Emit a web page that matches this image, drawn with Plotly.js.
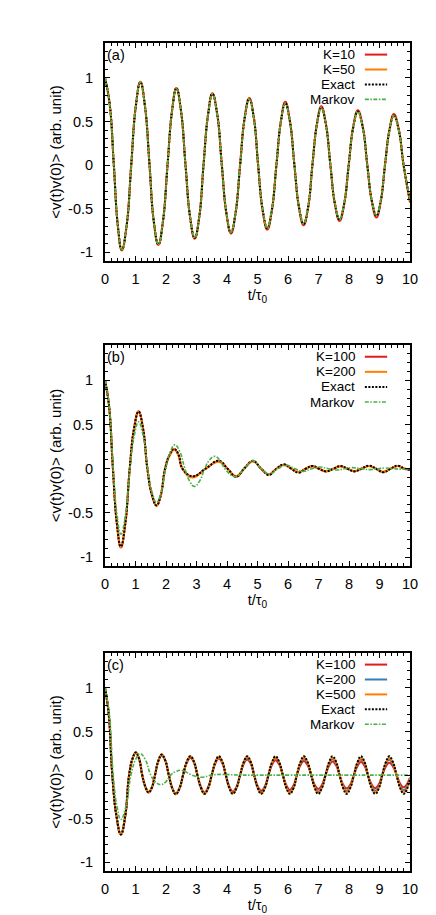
<!DOCTYPE html>
<html><head><meta charset="utf-8">
<script src="https://cdn.plot.ly/plotly-3.0.1.min.js"></script>
<style>html,body{margin:0;padding:0;background:#fff}#chart{width:436px;height:915px}</style>
</head><body><div id="chart"></div>
<script>
// ---------- Panel (a) ----------
const tA = [0, 0.15, 0.29, 0.42, 0.55, 0.71, 0.86, 1.01, 1.16, 1.31, 1.46, 1.6, 1.75, 1.9, 2.05, 2.2, 2.34, 2.49, 2.64, 2.79, 2.94, 3.09, 3.23, 3.38, 3.52, 3.68, 3.83, 3.98, 4.13, 4.28, 4.43, 4.58, 4.73, 4.88, 5.02, 5.17, 5.32, 5.47, 5.62, 5.77, 5.91, 6.06, 6.21, 6.36, 6.51, 6.66, 6.80, 6.95, 7.09, 7.24, 7.39, 7.54, 7.69, 7.84, 7.99, 8.14, 8.29, 8.45, 8.60, 8.75, 8.90, 9.04, 9.18, 9.33, 9.47, 9.63, 9.79, 10];
const k10A = [1, 0.71, 0, -0.695, -0.98, -0.695, 0, 0.68, 0.955, 0.68, 0, -0.65, -0.915, -0.65, 0, 0.63, 0.885, 0.63, 0, -0.6, -0.845, -0.6, 0, 0.585, 0.825, 0.585, 0, -0.555, -0.785, -0.555, 0, 0.545, 0.77, 0.545, 0, -0.525, -0.74, -0.525, 0, 0.515, 0.725, 0.515, 0, -0.49, -0.69, -0.49, 0, 0.48, 0.675, 0.48, 0, -0.455, -0.64, -0.455, 0, 0.445, 0.63, 0.445, 0, -0.425, -0.6, -0.425, 0, 0.415, 0.585, 0.415, 0, -0.43];
const k50A = [1, 0.71, 0, -0.69, -0.975, -0.69, 0, 0.675, 0.95, 0.675, 0, -0.645, -0.91, -0.645, 0, 0.625, 0.88, 0.625, 0, -0.595, -0.835, -0.595, 0, 0.58, 0.815, 0.58, 0, -0.55, -0.775, -0.55, 0, 0.54, 0.76, 0.54, 0, -0.515, -0.725, -0.515, 0, 0.505, 0.71, 0.505, 0, -0.48, -0.675, -0.48, 0, 0.47, 0.66, 0.47, 0, -0.445, -0.625, -0.445, 0, 0.435, 0.615, 0.435, 0, -0.41, -0.58, -0.41, 0, 0.405, 0.57, 0.405, 0, -0.41];
const exactA = [1, 0.71, 0, -0.69, -0.97, -0.69, 0, 0.675, 0.95, 0.675, 0, -0.645, -0.91, -0.645, 0, 0.625, 0.88, 0.625, 0, -0.595, -0.835, -0.595, 0, 0.58, 0.815, 0.58, 0, -0.55, -0.775, -0.55, 0, 0.54, 0.76, 0.54, 0, -0.515, -0.725, -0.515, 0, 0.505, 0.71, 0.505, 0, -0.48, -0.675, -0.48, 0, 0.47, 0.66, 0.47, 0, -0.445, -0.625, -0.445, 0, 0.435, 0.615, 0.435, 0, -0.41, -0.58, -0.41, 0, 0.405, 0.57, 0.405, 0, -0.41];
const markovA = [1, 0.71, 0, -0.69, -0.97, -0.69, 0, 0.675, 0.95, 0.675, 0, -0.645, -0.905, -0.645, 0, 0.62, 0.875, 0.62, 0, -0.59, -0.83, -0.59, 0, 0.575, 0.81, 0.575, 0, -0.545, -0.77, -0.545, 0, 0.535, 0.755, 0.535, 0, -0.51, -0.72, -0.51, 0, 0.5, 0.705, 0.5, 0, -0.475, -0.67, -0.475, 0, 0.465, 0.655, 0.465, 0, -0.44, -0.62, -0.44, 0, 0.43, 0.61, 0.43, 0, -0.41, -0.575, -0.41, 0, 0.4, 0.565, 0.4, 0, -0.40];
const legendA = ['K=10', 'K=50', 'Exact', 'Markov'];

// ---------- Panel (b) ----------
const tB = [0, 0.13, 0.26, 0.39, 0.52, 0.665, 0.81, 0.955, 1.10, 1.245, 1.39, 1.54, 1.69, 1.83, 1.97, 2.12, 2.27, 2.41, 2.54, 2.87, 3.30, 3.73, 4.02, 4.30, 4.56, 4.85, 5.12, 5.37, 5.62, 5.87, 6.11, 6.35, 6.58, 6.80, 7.02, 7.25, 7.49, 7.72, 7.95, 8.17, 8.41, 8.65, 8.89, 9.12, 9.36, 9.60, 9.82, 10];
const k100B = [1, 0.72, 0, -0.625, -0.89, -0.625, 0, 0.46, 0.65, 0.46, 0, -0.3, -0.42, -0.3, 0, 0.155, 0.22, 0.155, 0, -0.09, 0, 0.085, 0, -0.09, 0, 0.085, 0, -0.065, 0, 0.045, 0, -0.04, 0, 0.028, 0, -0.03, 0, 0.028, 0, -0.028, 0, 0.032, 0, -0.036, 0, 0.032, 0, -0.01];
const k200B = [1, 0.72, 0, -0.62, -0.885, -0.62, 0, 0.46, 0.645, 0.46, 0, -0.295, -0.415, -0.295, 0, 0.15, 0.215, 0.15, 0, -0.1, 0, 0.08, 0, -0.085, 0, 0.085, 0, -0.065, 0, 0.045, 0, -0.04, 0, 0.028, 0, -0.028, 0, 0.028, 0, -0.028, 0, 0.03, 0, -0.035, 0, 0.03, 0, -0.01];
const exactB = [1, 0.72, 0, -0.62, -0.88, -0.62, 0, 0.46, 0.645, 0.46, 0, -0.295, -0.415, -0.295, 0, 0.16, 0.224, 0.16, 0, -0.085, 0, 0.09, 0, -0.09, 0, 0.09, 0, -0.07, 0, 0.05, 0, -0.045, 0, 0.03, 0, -0.03, 0, 0.03, 0, -0.03, 0, 0.035, 0, -0.04, 0, 0.035, 0, -0.012];
const tMB = [0, 0.135, 0.27, 0.395, 0.52, 0.67, 0.82, 0.96, 1.10, 1.25, 1.40, 1.545, 1.69, 1.84, 1.99, 2.14, 2.29, 2.455, 2.62, 2.775, 2.93, 3.10, 3.27, 3.43, 3.59, 3.76, 3.93, 4.27, 4.56, 4.85, 5.12, 5.40, 5.67, 5.95, 6.23, 6.50, 6.78, 7.05, 7.33, 7.60, 7.85, 8.10, 8.40, 8.70, 8.95, 9.20, 9.45, 9.70, 10];
const markovB = [1, 0.72, 0, -0.525, -0.74, -0.525, 0, 0.375, 0.53, 0.375, 0, -0.27, -0.38, -0.27, 0, 0.19, 0.27, 0.19, 0, -0.14, -0.2, -0.14, 0, 0.1, 0.14, 0.1, 0, -0.09, 0, 0.09, 0, -0.06, 0, 0.04, 0, -0.03, 0, 0.02, 0, -0.015, 0, 0.012, 0, -0.01, 0, 0.008, 0, -0.005, 0];
const legendB = ['K=100', 'K=200', 'Exact', 'Markov'];

// ---------- Panel (c) ----------
const tC = [0, 0.12, 0.24,
  0.38, 0.52, 0.66, 0.79, 0.9, 1.01, 1.12, 1.22, 1.33, 1.43, 1.54, 1.64, 1.75, 1.86, 1.98, 2.09,
  2.21, 2.32, 2.44, 2.56, 2.68, 2.80, 2.92, 3.03, 3.15, 3.26, 3.38, 3.50, 3.62, 3.73, 3.85, 3.96,
  4.08, 4.19, 4.31, 4.43, 4.55, 4.66, 4.78, 4.89, 5.01, 5.12, 5.24, 5.36, 5.48, 5.59, 5.71, 5.83,
  5.95, 6.06, 6.18, 6.29, 6.41, 6.52, 6.64, 6.76, 6.88, 6.99, 7.11, 7.23, 7.35, 7.46, 7.58, 7.69,
  7.81, 7.92, 8.04, 8.16, 8.28, 8.39, 8.51, 8.62, 8.74, 8.86, 8.98, 9.09, 9.21, 9.32, 9.44, 9.56,
  9.68, 9.80, 10];
const k100C = [1, 0.71, 0,
  -0.48, -0.68, -0.48, 0, 0.185, 0.26, 0.185, 0, -0.14, -0.195, -0.14, 0, 0.16, 0.225, 0.16, 0,
  -0.15, -0.21, -0.15, 0, 0.14, 0.2, 0.14, 0, -0.14, -0.2, -0.14, 0, 0.135, 0.19, 0.135, 0,
  -0.135, -0.19, -0.135, 0, 0.13, 0.18, 0.13, 0, -0.13, -0.18, -0.13, 0, 0.12, 0.17, 0.12, 0,
  -0.12, -0.17, -0.12, 0, 0.115, 0.16, 0.115, 0, -0.115, -0.16, -0.115, 0, 0.11, 0.155, 0.11, 0,
  -0.11, -0.155, -0.11, 0, 0.105, 0.15, 0.105, 0, -0.105, -0.15, -0.105, 0, 0.1, 0.14, 0.1, 0,
  -0.1, -0.14, -0.03];
const k200C = [1, 0.71, 0,
  -0.48, -0.68, -0.48, 0, 0.185, 0.26, 0.185, 0, -0.14, -0.2, -0.14, 0, 0.165, 0.23, 0.165, 0,
  -0.155, -0.215, -0.155, 0, 0.15, 0.21, 0.15, 0, -0.15, -0.21, -0.15, 0, 0.145, 0.205, 0.145, 0,
  -0.145, -0.205, -0.145, 0, 0.14, 0.2, 0.14, 0, -0.14, -0.2, -0.14, 0, 0.14, 0.195, 0.14, 0,
  -0.14, -0.195, -0.14, 0, 0.135, 0.19, 0.135, 0, -0.135, -0.19, -0.135, 0, 0.13, 0.185, 0.13, 0,
  -0.13, -0.185, -0.13, 0, 0.13, 0.18, 0.13, 0, -0.13, -0.18, -0.13, 0, 0.125, 0.175, 0.125, 0,
  -0.125, -0.175, -0.035];
const k500C = [1, 0.71, 0,
  -0.48, -0.68, -0.48, 0, 0.185, 0.26, 0.185, 0, -0.14, -0.2, -0.14, 0, 0.165, 0.235, 0.165, 0,
  -0.155, -0.22, -0.155, 0, 0.15, 0.215, 0.15, 0, -0.15, -0.215, -0.15, 0, 0.15, 0.21, 0.15, 0,
  -0.15, -0.21, -0.15, 0, 0.15, 0.21, 0.15, 0, -0.15, -0.21, -0.15, 0, 0.145, 0.205, 0.145, 0,
  -0.145, -0.205, -0.145, 0, 0.145, 0.205, 0.145, 0, -0.145, -0.205, -0.145, 0, 0.14, 0.2, 0.14, 0,
  -0.14, -0.2, -0.14, 0, 0.14, 0.2, 0.14, 0, -0.14, -0.2, -0.14, 0, 0.14, 0.2, 0.14, 0,
  -0.14, -0.2, -0.04];
const exactC = [1, 0.71, 0,
  -0.48, -0.68, -0.48, 0, 0.185, 0.26, 0.185, 0, -0.14, -0.2, -0.14, 0, 0.165, 0.235, 0.165, 0,
  -0.155, -0.22, -0.155, 0, 0.15, 0.215, 0.15, 0, -0.15, -0.215, -0.15, 0, 0.15, 0.215, 0.15, 0,
  -0.15, -0.215, -0.15, 0, 0.15, 0.215, 0.15, 0, -0.15, -0.215, -0.15, 0, 0.15, 0.215, 0.15, 0,
  -0.15, -0.215, -0.15, 0, 0.15, 0.215, 0.15, 0, -0.15, -0.215, -0.15, 0, 0.15, 0.215, 0.15, 0,
  -0.15, -0.215, -0.15, 0, 0.15, 0.215, 0.15, 0, -0.15, -0.215, -0.15, 0, 0.15, 0.215, 0.15, 0,
  -0.15, -0.215, -0.045];
const tMC = [0, 0.135, 0.27, 0.395, 0.52, 0.685, 0.85, 1.0, 1.15, 1.325, 1.50, 1.66, 1.82, 1.985, 2.15, 2.325, 2.50, 2.85, 3.15, 3.50, 3.85, 4.40, 5.0, 6.0, 7.0, 8.0, 9.0, 10];
const markovC = [1, 0.72, 0, -0.36, -0.51, -0.36, 0, 0.175, 0.245, 0.175, 0, -0.08, -0.11, -0.08, 0, 0.04, 0.055, 0, -0.025, 0, 0.008, 0, 0, 0, 0, 0, 0, 0];
const legendC = ['K=100', 'K=200', 'K=500', 'Exact', 'Markov'];

const panelLabels = ['(a)', '(b)', '(c)'];
const xTitle = 't/τ<sub>0</sub>';
const yTitle = '&lt;v(t)v(0)&gt; (arb. unit)';
const yTickVals = [-1, -0.5, 0, 0.5, 1];
const yTickText = ['-1', '-0.5', '0', '0.5', '1'];

// ---------- styles ----------
const RED = '#e41a1c', ORANGE = '#ff7f00', BLUE = '#377eb8', GREEN = '#4daf4a', BLACK = '#000000';
const FS = 14.5, LFS = 13.5;
const styles = {
  red:    {color: RED, width: 2, dash: 'solid'},
  orange: {color: ORANGE, width: 2, dash: 'solid'},
  blue:   {color: BLUE, width: 2, dash: 'solid'},
  exact:  {color: BLACK, width: 2, dash: '2px,1.5px'},
  markov: {color: GREEN, width: 1.6, dash: '4px,1.5px,1.5px,1.5px'}
};

function tr(x, y, name, st, i) {
  const s = i > 1 ? String(i) : '';
  return {type: 'scatter', mode: 'lines', x: x, y: y, name: name, showlegend: false,
    xaxis: 'x' + s, yaxis: 'y' + s, hoverinfo: 'skip',
    line: {color: st.color, width: st.width, dash: st.dash, shape: 'spline', smoothing: 1.3}};
}

const traces = [
  tr(tA, k10A, legendA[0], styles.red, 1),
  tr(tA, k50A, legendA[1], styles.orange, 1),
  tr(tA, exactA, legendA[2], styles.exact, 1),
  tr(tA, markovA, legendA[3], styles.markov, 1),
  tr(tB, k100B, legendB[0], styles.red, 2),
  tr(tB, k200B, legendB[1], styles.orange, 2),
  tr(tB, exactB, legendB[2], styles.exact, 2),
  tr(tMB, markovB, legendB[3], styles.markov, 2),
  tr(tC, k100C, legendC[0], styles.red, 3),
  tr(tC, k200C, legendC[1], styles.blue, 3),
  tr(tC, k500C, legendC[2], styles.orange, 3),
  tr(tC, exactC, legendC[3], styles.exact, 3),
  tr(tMC, markovC, legendC[4], styles.markov, 3)
];

const legendStyles = [
  [styles.red, styles.orange, styles.exact, styles.markov],
  [styles.red, styles.orange, styles.exact, styles.markov],
  [styles.red, styles.blue, styles.orange, styles.exact, styles.markov]
];
const legendLabels = [legendA, legendB, legendC];

function xax(i) {
  return {range: [0, 10], anchor: 'y' + (i > 1 ? i : ''), tickmode: 'linear', tick0: 0, dtick: 1,
    ticks: 'inside', ticklen: 5, tickwidth: 1, tickcolor: BLACK, mirror: 'ticks',
    showline: true, linecolor: BLACK, linewidth: 2, showgrid: false, zeroline: false,
    minor: {tickmode: 'linear', tick0: 0, dtick: 0.2, ticks: 'inside', ticklen: 3, tickwidth: 1, tickcolor: BLACK, showgrid: false},
    tickfont: {size: FS, color: BLACK}, ticklabelstandoff: 4,
    title: {text: xTitle, font: {size: FS, color: BLACK}, standoff: 2}};
}
function yax(i, dom) {
  return {range: [-1.1, 1.4], domain: dom, anchor: 'x' + (i > 1 ? i : ''), tickmode: 'array',
    tickvals: yTickVals, ticktext: yTickText,
    ticks: 'inside', ticklen: 5, tickwidth: 1, tickcolor: BLACK, mirror: 'ticks',
    showline: true, linecolor: BLACK, linewidth: 2, showgrid: false, zeroline: false,
    minor: {tickmode: 'linear', tick0: -1, dtick: 0.1, ticks: 'inside', ticklen: 3, tickwidth: 1, tickcolor: BLACK, showgrid: false},
    tickfont: {size: FS, color: BLACK}, ticklabelstandoff: 7,
    title: {text: yTitle, font: {size: 15, color: BLACK}, standoff: 3}};
}

const annotations = [];
const shapes = [];
for (let p = 0; p < 3; p++) {
  const s = p > 0 ? String(p + 1) : '';
  annotations.push({xref: 'x' + s, yref: 'y' + s, x: 0.03, y: 1.267, text: panelLabels[p],
    showarrow: false, xanchor: 'left', yanchor: 'middle', borderpad: 0, font: {size: FS, color: BLACK}});
  legendLabels[p].forEach((lab, k) => {
    const yy = 1.267 - 0.171 * k;
    annotations.push({xref: 'x' + s, yref: 'y' + s, x: 8.24, y: yy, text: lab, showarrow: false,
      xanchor: 'right', yanchor: 'middle', borderpad: 0, font: {size: LFS, color: BLACK}});
    const st = legendStyles[p][k];
    shapes.push({type: 'line', xref: 'x' + s, yref: 'y' + s, x0: 8.52, x1: 9.25, y0: yy, y1: yy,
      line: {color: st.color, width: st.width, dash: st.dash}});
  });
}

const layout = {
  width: 436, height: 915,
  margin: {l: 105, r: 26, t: 43, b: 44},
  paper_bgcolor: '#ffffff', plot_bgcolor: '#ffffff',
  font: {family: 'Liberation Sans, Arial, Helvetica, sans-serif', size: FS, color: BLACK},
  showlegend: false,
  xaxis: xax(1), xaxis2: xax(2), xaxis3: xax(3),
  yaxis: yax(1, [0.7367, 1]), yaxis2: yax(2, [0.3684, 0.6353]), yaxis3: yax(3, [0, 0.2633]),
  annotations: annotations, shapes: shapes
};
Plotly.newPlot('chart', traces, layout, {displayModeBar: false, staticPlot: true});
</script></body></html>
